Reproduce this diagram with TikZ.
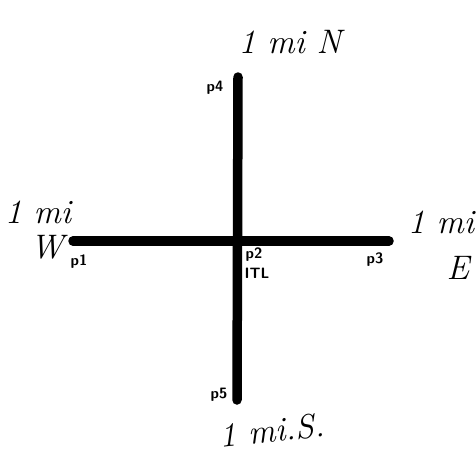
\documentclass[tikz,border=0pt]{standalone}
\usepackage{fontspec}
\begin{document}
\begin{tikzpicture}[x=1pt,y=-1pt,
  road/.style={line width=9.5pt,line cap=round},
  plabel/.style={font=\fontsize{15}{16}\selectfont\sffamily\bfseries,inner sep=0pt},
  hand/.style={font=\fontsize{34}{34}\selectfont\itshape,inner sep=0pt}]
\useasboundingbox (0,0) rectangle (476,466);
\coordinate (c) at (238,240);
\coordinate (w) at (73,241);
\coordinate (e) at (389,241);
\coordinate (n) at (238,77);
\coordinate (s) at (237,400);
\draw[road] (w) -- (e);
\draw[road] (n) -- (s);
\node[plabel] (p1) at (79,262) {p1};
\node[plabel] (p2) at (254,255) {p2};
\node[plabel] (itl) at (257,273) {ITL};
\node[plabel] (p3) at (375,260) {p3};
\node[plabel] (p4) at (215,88) {p4};
\node[plabel] (p5) at (219,395) {p5};
\node[hand] (tn) at (290,42) {1 mi N};
\node[hand] (tw1) at (38,212) {1 mi};
\node[hand] (tw2) at (47,247) {W};
\node[hand] (te1) at (441,222) {1 mi};
\node[hand] (te2) at (458,268) {E};
\node[hand,rotate=6] (ts) at (272,430) {1 mi.S.};
\end{tikzpicture}
\end{document}
